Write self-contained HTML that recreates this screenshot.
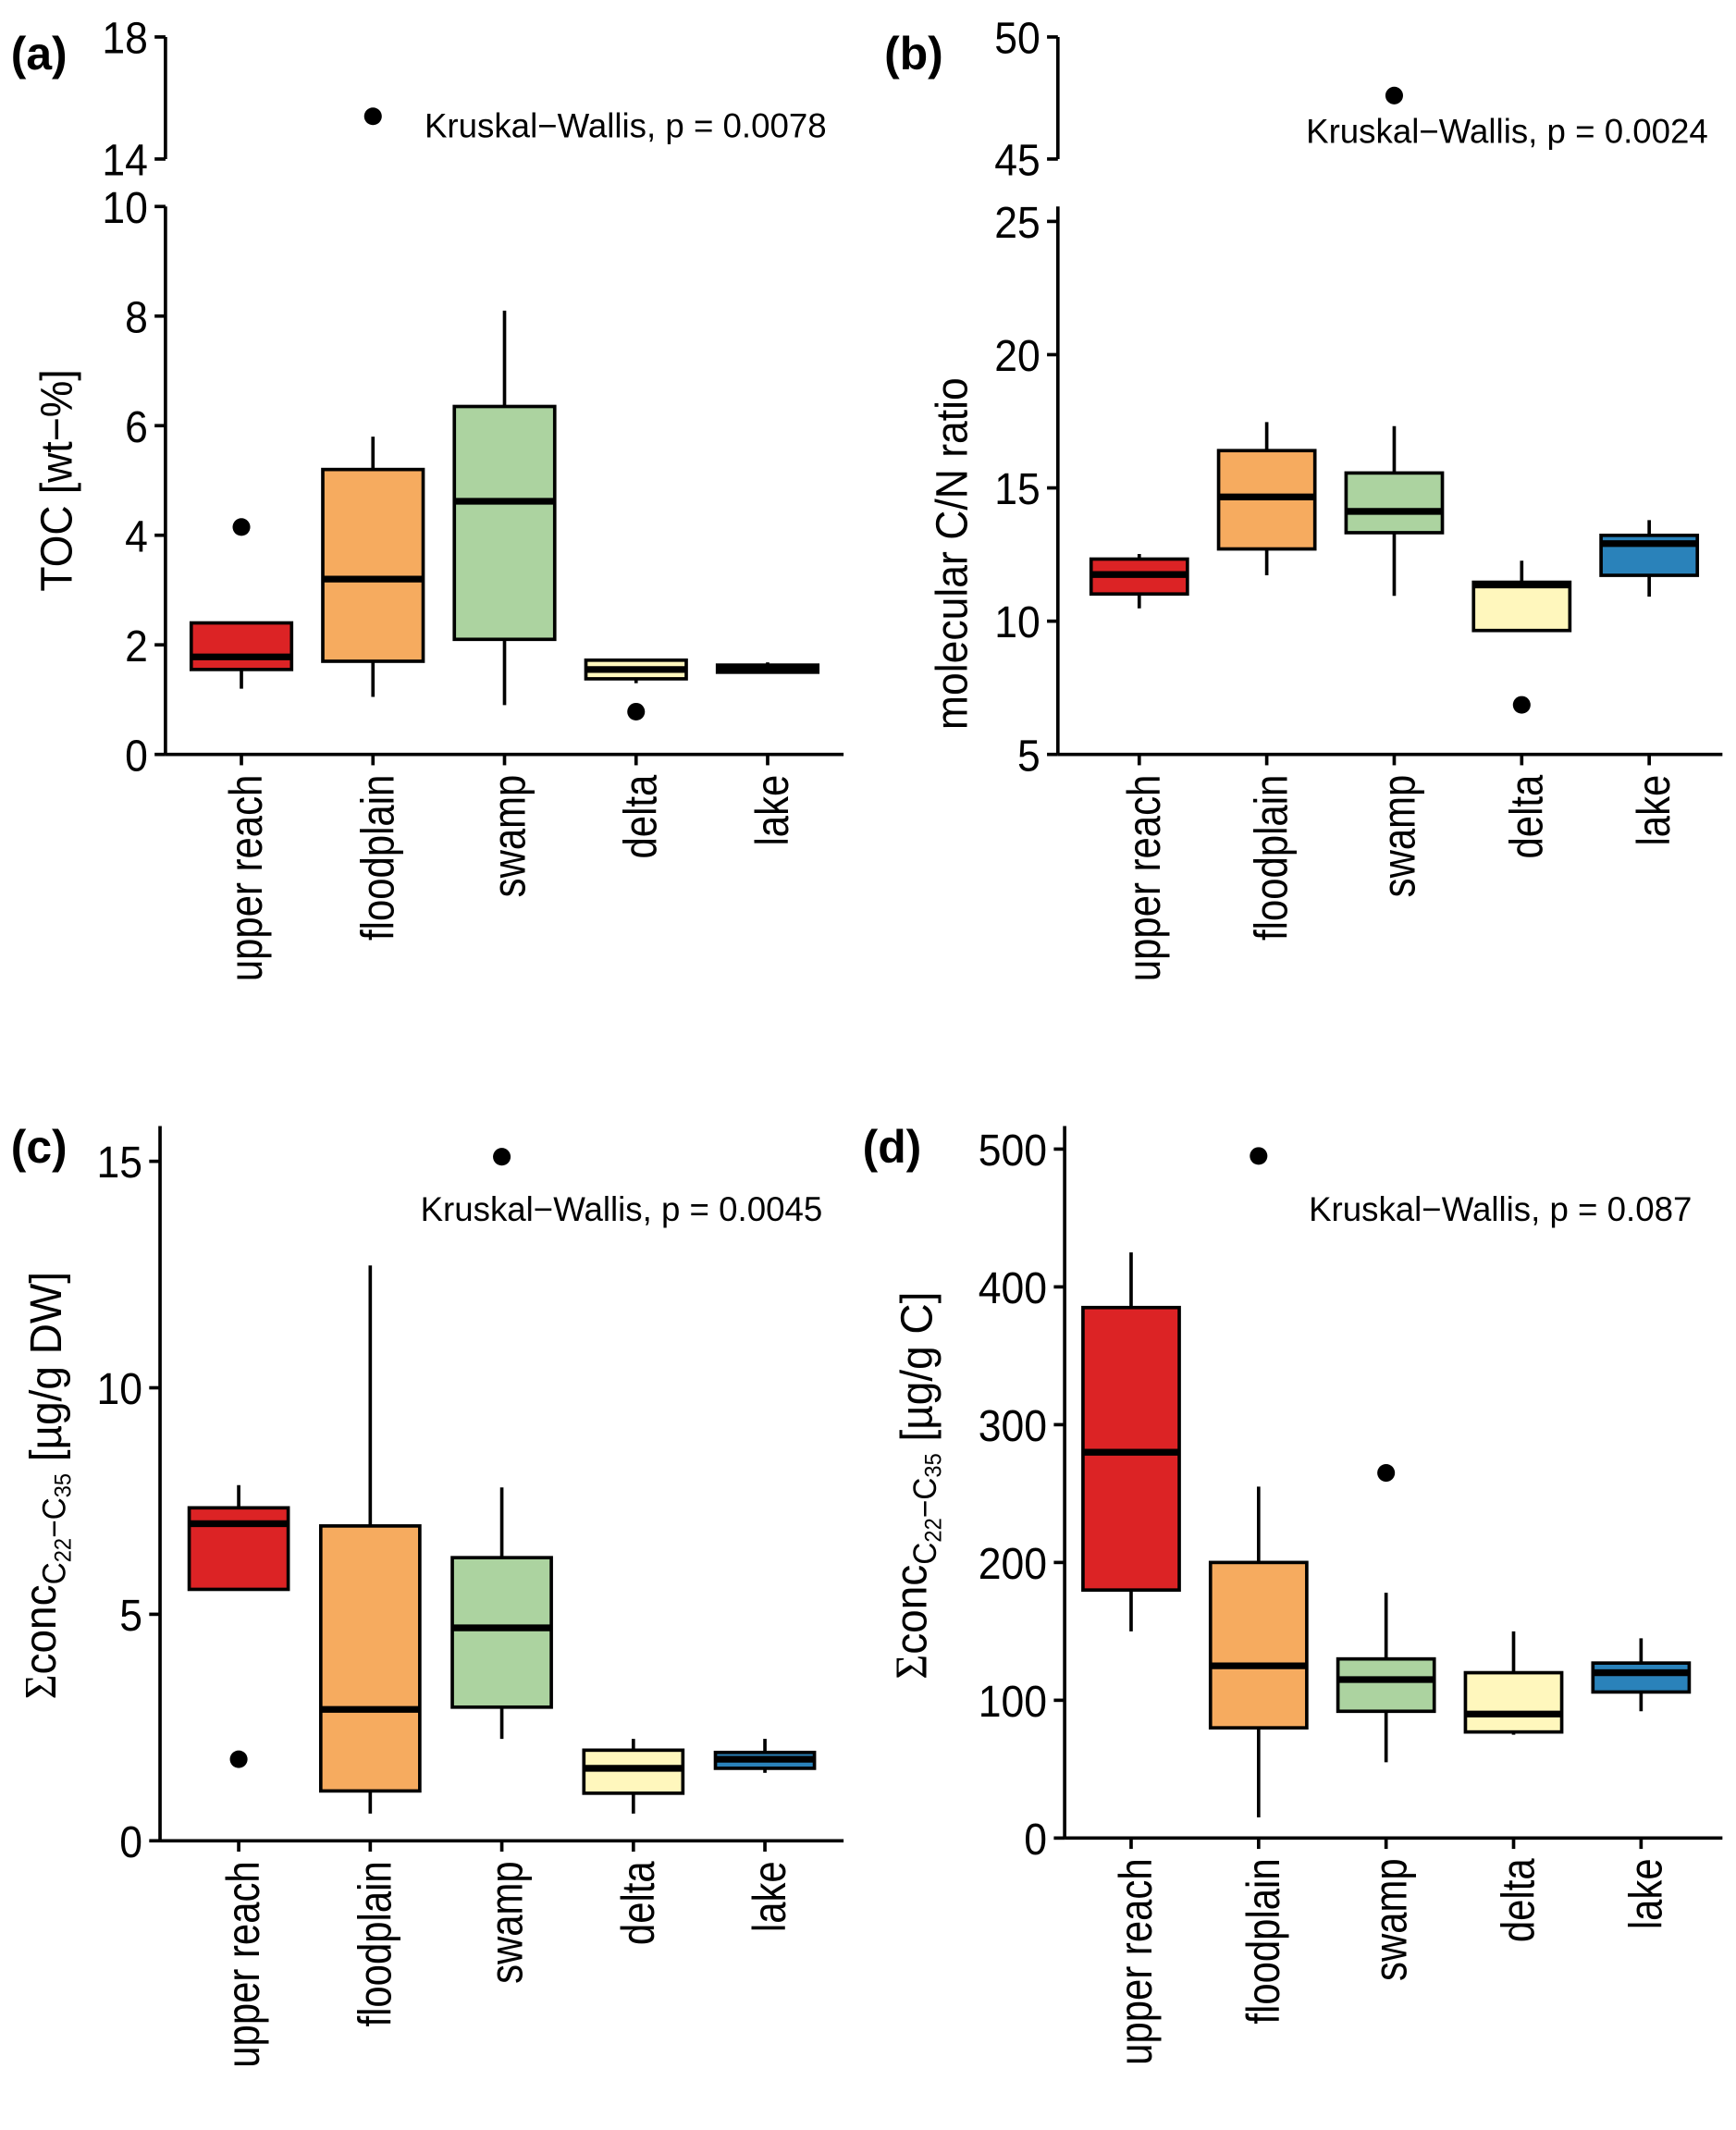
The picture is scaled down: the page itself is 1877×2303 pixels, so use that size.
<!DOCTYPE html>
<html><head><meta charset="utf-8"><style>
html,body{margin:0;padding:0;background:#fff;}
svg{display:block;font-family:"Liberation Sans",sans-serif;}
</style></head><body>
<svg id="fig" width="1877" height="2303" viewBox="0 0 1280 1570" xmlns="http://www.w3.org/2000/svg"></svg>
<script>
const categories = ["upper reach","floodplain","swamp","delta","lake"];
const colors = ["#dc2325","#f6ab5f","#acd3a0","#fff7bd","#2a82ba"];
// panel a: TOC [wt-%]  [lo, q1, med, q3, hi]
const aStats = [[1.2,1.55,1.78,2.4,2.42],[1.05,1.7,3.2,5.2,5.8],[0.9,2.1,4.62,6.35,8.1],[1.3,1.38,1.55,1.72,1.75],[1.48,1.5,1.57,1.63,1.68]];
const aOutliers = [[0,4.15],[1,15.4],[3,0.78]];
const aTicks = [0,2,4,6,8,10];
const aTopTicks = [14,18];
// panel b: molecular C/N
const bStats = [[10.48,11.02,11.75,12.33,12.52],[11.72,12.71,14.66,16.4,17.47],[10.95,13.32,14.12,15.56,17.32],[9.65,9.65,11.36,11.46,12.27],[10.92,11.72,12.91,13.22,13.79]];
const bOutliers = [[3,6.86],[2,47.6]];
const bTicks = [5,10,15,20,25];
const bTopTicks = [45,50];
// panel c
const cStats = [[5.55,5.55,7.0,7.35,7.85],[0.6,1.1,2.9,6.95,12.7],[2.25,2.95,4.7,6.25,7.8],[0.6,1.05,1.6,2.0,2.25],[1.5,1.6,1.8,1.95,2.25]];
const cOutliers = [[0,1.8],[2,15.1]];
const cTicks = [0,5,10,15];
// panel d
const dStats = [[150,180,280,385,425],[15,80,125,200,255],[55,92,115,130,178],[75,77,90,120,150],[92,106,120,127,145]];
const dOutliers = [[1,495],[2,265]];
const dTicks = [0,100,200,300,400,500];

const NS="http://www.w3.org/2000/svg";
const svg=document.getElementById('fig');
function mk(tag,attrs,parent,text){const e=document.createElementNS(NS,tag);for(const k in attrs)e.setAttribute(k,attrs[k]);if(text!==undefined)e.textContent=text;(parent||svg).appendChild(e);return e;}
function lin(d0,d1,r0,r1){return v=>r0+(v-d0)*(r1-r0)/(d1-d0);}

function panel(cfg){
  const g=mk('g',{});
  
  
  const y=lin(cfg.dom[0],cfg.dom[1],cfg.rng[0],cfg.rng[1]);
  const ax=cfg.axisX;
  const yl=mk('line',{x1:ax,x2:ax,y1:cfg.axisTop,y2:cfg.rng[0],stroke:'#000','stroke-width':2.5},g);
  
  
  cfg.ticks.forEach(t=>{
    const yy=y(t);
    mk('line',{x1:ax-8,x2:ax,y1:yy,y2:yy,stroke:'#000','stroke-width':2.5},g);
    const tl=mk('text',{x:0,y:0,'text-anchor':'end','font-size':33,transform:`translate(${ax-13},${yy+12}) scale(0.92,1)`},g,String(t));
    
    
  });
  const xl=mk('line',{x1:ax,x2:cfg.axisRight,y1:cfg.rng[0],y2:cfg.rng[0],stroke:'#000','stroke-width':2.5},g);
  
  
  const x=i=>cfg.x0+i*cfg.dx;
  categories.forEach((c,i)=>{
    mk('line',{x1:x(i),x2:x(i),y1:cfg.rng[0],y2:cfg.rng[0]+8,stroke:'#000','stroke-width':2.5},g);
    const t=mk('text',{x:0,y:0,'text-anchor':'end','font-size':34,transform:`translate(${x(i)+15},${cfg.rng[0]+15}) rotate(-90) scale(0.84,1)`},g,c);
    
    
  });
  if(cfg.top){
    const yt=lin(cfg.top.dom[0],cfg.top.dom[1],cfg.top.rng[0],cfg.top.rng[1]);
    const ta=mk('line',{x1:ax,x2:ax,y1:yt(cfg.top.ticks[1]),y2:yt(cfg.top.ticks[0]),stroke:'#000','stroke-width':2.5},g);
    
    
    cfg.top.ticks.forEach(t=>{
      mk('line',{x1:ax-8,x2:ax,y1:yt(t),y2:yt(t),stroke:'#000','stroke-width':2.5},g);
      const tl=mk('text',{x:0,y:0,'text-anchor':'end','font-size':33,transform:`translate(${ax-13},${yt(t)+12}) scale(0.92,1)`},g,String(t));
      
      
    });
    cfg.top.out.forEach(o=>{
      const c=mk('circle',{cx:x(o[0]),cy:yt(o[1]),r:6.5,fill:'#000'},g);
      
      
    });
  }
  const hw=cfg.bw/2;
  cfg.stats.forEach((s,i)=>{
    const cx=x(i);
    const bg=mk('g',{},g);
    
    
    mk('line',{x1:cx,x2:cx,y1:y(s[0]),y2:y(s[4]),stroke:'#000','stroke-width':2.5},bg);
    mk('rect',{x:cx-hw,y:y(s[3]),width:cfg.bw,height:Math.max(y(s[1])-y(s[3]),0.5),fill:colors[i],stroke:'#000','stroke-width':2.5},bg);
    mk('line',{x1:cx-hw,x2:cx+hw,y1:y(s[2]),y2:y(s[2]),stroke:'#000','stroke-width':5},bg);
  });
  cfg.out.forEach(o=>{
    const c=mk('circle',{cx:x(o[0]),cy:y(o[1]),r:6.5,fill:'#000'},g);
    
    
  });
  const kt=mk('text',{x:cfg.kw[0],y:cfg.kw[1],'font-size':25},g,cfg.kwText);
  
  
  const pl=mk('text',{x:cfg.lab[0],y:cfg.lab[1],'font-size':34,'font-weight':'bold'},g,cfg.labText);
  
  
  return g;
}

panel({name:'panel-a',dom:[0,10],rng:[556,152],axisX:122,axisTop:152,axisRight:622,ticks:aTicks,
  x0:178,dx:97,bw:74,stats:aStats,out:aOutliers.filter(o=>o[1]<10),
  top:{dom:[14,18],rng:[117,27],ticks:aTopTicks,out:aOutliers.filter(o=>o[1]>=10)},
  kw:[313,101],kwText:'Kruskal\u2212Wallis, p = 0.0078',lab:[8,51],labText:'(a)'});
panel({name:'panel-b',dom:[5,25],rng:[556,163],axisX:780,axisTop:152,axisRight:1270,ticks:bTicks,
  x0:840,dx:94,bw:71,stats:bStats,out:bOutliers.filter(o=>o[1]<25),
  top:{dom:[45,50],rng:[117,27],ticks:bTopTicks,out:bOutliers.filter(o=>o[1]>=25)},
  kw:[963,105],kwText:'Kruskal\u2212Wallis, p = 0.0024',lab:[652,51],labText:'(b)'});
panel({name:'panel-c',dom:[0,15],rng:[1357,856],axisX:118,axisTop:830,axisRight:622,ticks:cTicks,
  x0:176,dx:97,bw:73,stats:cStats,out:cOutliers,
  kw:[310,900],kwText:'Kruskal\u2212Wallis, p = 0.0045',lab:[8,857],labText:'(c)'});
panel({name:'panel-d',dom:[0,500],rng:[1355,847],axisX:785,axisTop:830,axisRight:1270,ticks:dTicks,
  x0:834,dx:94,bw:71,stats:dStats,out:dOutliers,
  kw:[965,900],kwText:'Kruskal\u2212Wallis, p = 0.087',lab:[636,857],labText:'(d)'});

let t=mk('text',{x:0,y:0,'text-anchor':'middle','font-size':33,transform:'translate(53,354) rotate(-90) scale(0.92,1)'},svg,'TOC [wt\u2212%]');


t=mk('text',{x:0,y:0,'text-anchor':'middle','font-size':33,transform:'translate(713,408) rotate(-90) scale(0.92,1)'},svg,'molecular C/N ratio');


function concTitle(cx,cy,unit,name){
  const tt=mk('text',{x:0,y:0,'text-anchor':'middle','font-size':33,transform:`translate(${cx},${cy}) rotate(-90) scale(0.95,1)`});
  
  
  mk('tspan',{'font-family':'"Liberation Serif",serif'},tt,'\u03A3');
  mk('tspan',{},tt,'conc');
  mk('tspan',{'font-size':24,dy:7},tt,'C');
  mk('tspan',{'font-size':17,dy:4},tt,'22');
  mk('tspan',{'font-size':24,dy:-4},tt,'\u2212C');
  mk('tspan',{'font-size':17,dy:4},tt,'35');
  mk('tspan',{'font-size':33,dy:-7},tt,' [\u00B5g/g '+unit+']');
}
concTitle(41,1095,'DW','y-axis-title-c');
concTitle(683,1095,'C','y-axis-title-d');
</script>
</body></html>
